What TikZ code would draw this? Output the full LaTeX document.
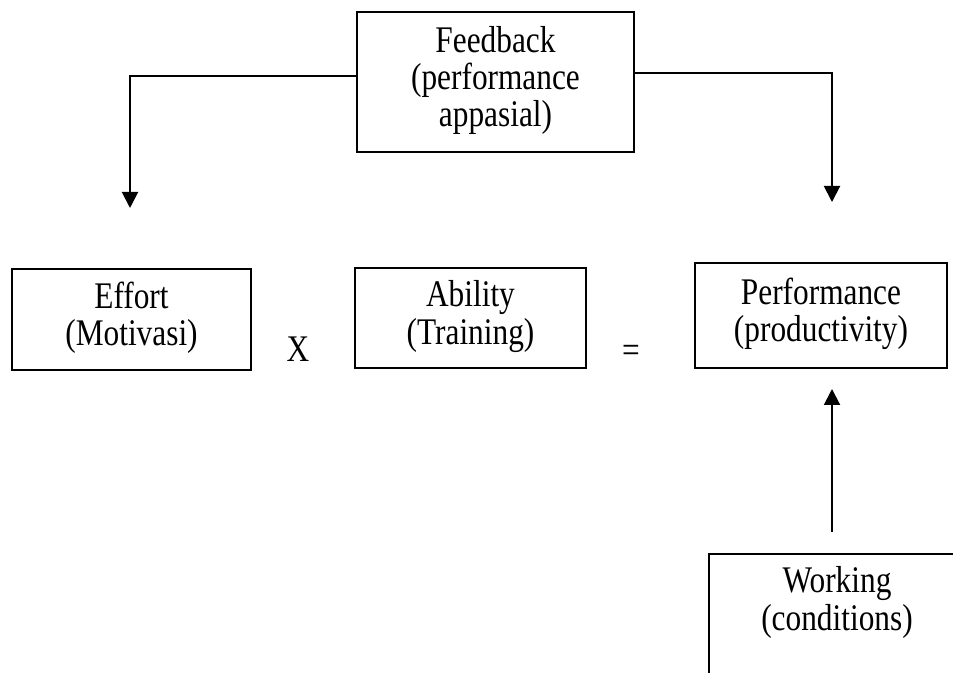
\documentclass[tikz,border=0pt]{standalone}
\usepackage{fontspec}
\setmainfont{Liberation Serif}
\usepackage{graphicx}
\usetikzlibrary{arrows.meta}
\newcommand{\tl}[1]{\scalebox{1}[1.2]{\begin{tabular}{@{}c@{}}#1\end{tabular}}}
\begin{document}
\begin{tikzpicture}[x=0.75pt,y=-0.75pt,
  txt/.style={inner sep=0pt, font=\fontsize{23.5}{23.1}\selectfont},
  box/.style={txt, draw, line width=1.3pt},
  conn/.style={line width=1.5pt},
  arr/.style={conn, -{Triangle[width=12pt,length=12pt]}}]
\useasboundingbox (0,0) rectangle (953,673);
\clip (0,0) rectangle (953,673);
\fill[white] (0,0) rectangle (953,673);
% boxes
\node[box, minimum width=207.75pt, minimum height=105pt] (fb) at (495.5,82) {\tl{Feedback\\(performance\\appasial)}};
\node[box, minimum width=179.25pt, minimum height=75.75pt] (eff) at (131.5,319.5) {\tl{Effort\\(Motivasi)}};
\node[box, minimum width=173.25pt, minimum height=75pt] (abl) at (470.5,318) {\tl{Ability\\(Training)}};
\node[box, minimum width=189pt, minimum height=78.75pt] (perf) at (821,315.5) {\tl{Performance\\(productivity)}};
\node[box, anchor=north west, minimum width=260pt, minimum height=120pt] (wkbox) at (708,553) {};
\node[txt] (wk) at (837,604) {\tl{Working\\(conditions)}};
% operators
\node[txt, anchor=base] (times) at (298,364) {\tl{X}};
\node[txt, anchor=base] (eq) at (631,365) {\tl{=}};
% connector ends
\coordinate (la) at (130,208);
\coordinate (ra) at (832,202);
\coordinate (wout) at (832,532);
\coordinate (pin) at (832,389);
% connectors
\draw[arr] ([yshift=4.5pt]fb.west) -| (la);
\draw[arr] ([yshift=6.75pt]fb.east) -| (ra);
\draw[arr] (wout) -- (pin);
\end{tikzpicture}
\end{document}
